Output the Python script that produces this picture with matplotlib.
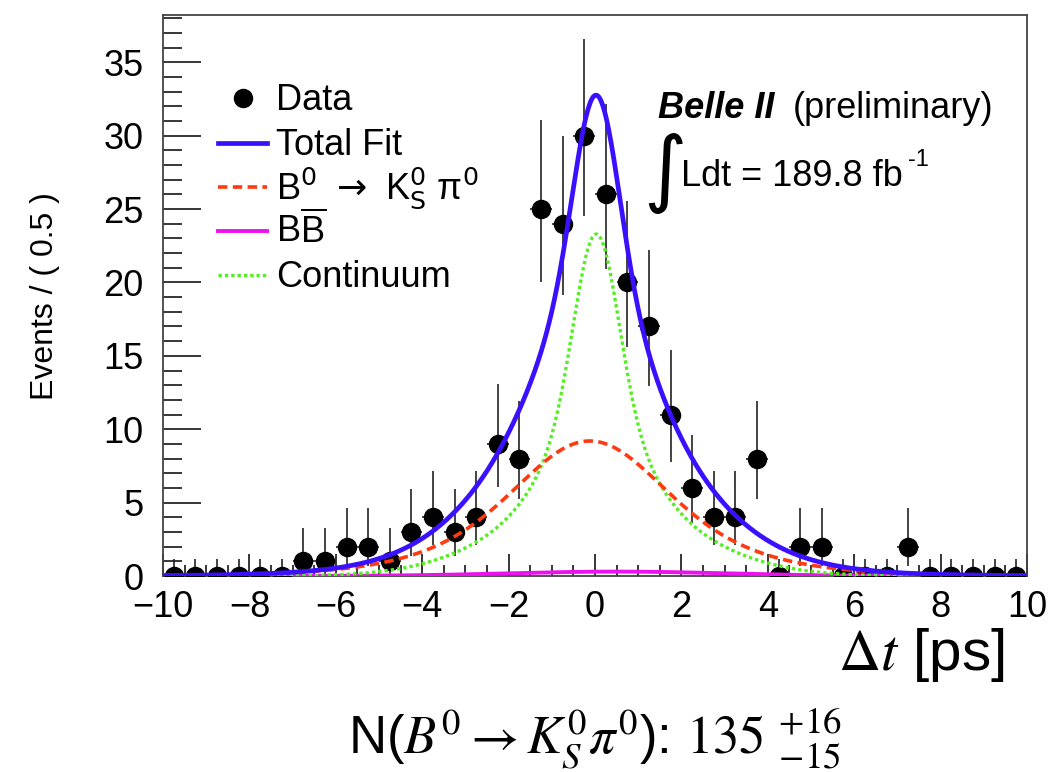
import math
import numpy as np
import matplotlib
matplotlib.use("Agg")
import matplotlib.pyplot as plt
from matplotlib.lines import Line2D
from matplotlib.ticker import MultipleLocator

plt.rcParams['font.family'] = ['Liberation Sans', 'DejaVu Sans']
plt.rcParams['mathtext.fontset'] = 'custom'
plt.rcParams['mathtext.rm'] = 'Liberation Sans'
plt.rcParams['mathtext.it'] = 'Liberation Sans:italic'
plt.rcParams['mathtext.bf'] = 'Liberation Sans:bold'

# ---------------- data ----------------
bin_centers = [-9.75, -9.25, -8.75, -8.25, -7.75, -7.25, -6.75, -6.25, -5.75, -5.25,
               -4.75, -4.25, -3.75, -3.25, -2.75, -2.25, -1.75, -1.25, -0.75, -0.25,
               0.25, 0.75, 1.25, 1.75, 2.25, 2.75, 3.25, 3.75, 4.25, 4.75,
               5.25, 5.75, 6.25, 6.75, 7.25, 7.75, 8.25, 8.75, 9.25, 9.75]
counts = [0, 0, 0, 0, 0, 0, 1, 1, 2, 2,
          1, 3, 4, 3, 4, 9, 8, 25, 24, 30,
          26, 20, 17, 11, 6, 4, 4, 8, 0, 2,
          2, 0, 0, 0, 2, 0, 0, 0, 0, 0]
# asymmetric Poisson errors per count value
poisson_lo = {0: 0.0, 1: 0.83, 2: 1.29, 3: 1.63, 4: 1.91, 6: 2.38, 8: 2.77, 9: 2.94,
              11: 3.26, 17: 4.06, 20: 4.41, 24: 4.86, 25: 4.97, 26: 5.07, 30: 5.46}
poisson_hi = {0: 1.15, 1: 2.30, 2: 2.64, 3: 2.92, 4: 3.16, 6: 3.58, 8: 3.94, 9: 4.11,
              11: 4.42, 17: 5.20, 20: 5.52, 24: 5.96, 25: 6.06, 26: 6.17, 30: 6.58}
bin_half_width = 0.25

# fit model parameters (events / 0.5 ps at peak)
sig_peak, sig_tau, sig_res, sig_mu = 9.2, 1.52, 1.2, -0.12
cont_peak, cont_mu = 23.3, 0.03
cont_fracs = [0.518, 0.257, 0.225]
cont_widths = [0.5, 1.0, 2.1]
bb_peak, bb_mu, bb_width = 0.3, 0.5, 2.5

legend_labels = ["Data", "Total Fit",
                 r"B$^{0}\ \rightarrow\ $K$^{0}_{\mathrm{S}}$ π$^{0}$",
                 r"B$\overline{\mathrm{B}}$", "Continuum"]
legend_mathfont = ['custom', 'custom', 'dejavusans', 'custom', 'custom']

# ---------------- model ----------------
erfc = np.vectorize(math.erfc)

def exp_conv_gauss(t, tau, s):
    a = s / tau
    return 0.5 * np.exp(a * a / 2) * (np.exp(-t / tau) * erfc((a - t / s) / np.sqrt(2))
                                     + np.exp(t / tau) * erfc((a + t / s) / np.sqrt(2)))

t = np.linspace(-10, 10, 1001)
sig = exp_conv_gauss(t - sig_mu, sig_tau, sig_res)
sig = sig_peak * sig / exp_conv_gauss(np.array([0.0]), sig_tau, sig_res)[0]
cont = cont_peak * sum(f * np.exp(-0.5 * ((t - cont_mu) / w) ** 2)
                       for f, w in zip(cont_fracs, cont_widths))
bb = bb_peak * np.exp(-0.5 * ((t - bb_mu) / bb_width) ** 2)
total = sig + cont + bb

# ---------------- figure ----------------
W, H = 1056, 772
fig = plt.figure(figsize=(W / 100, H / 100), dpi=100)
ax = fig.add_axes([163 / W, 1 - 576 / H, (1027 - 163) / W, (576 - 14.6) / H])

c_blue = '#3a10ff'
c_red = '#ff3a10'
c_green = '#55ee22'
c_mag = '#ee10f0'

st_blue = dict(color=c_blue, lw=3.4)
st_red = dict(color=c_red, lw=2.6, dashes=(2.6, 1.5))
st_mag = dict(color=c_mag, lw=2.8)
st_green = dict(color=c_green, lw=2.4, dashes=(1.0, 0.9))

lo = [poisson_lo[c] for c in counts]
hi = [poisson_hi[c] for c in counts]
ax.errorbar(bin_centers, counts, yerr=[lo, hi], xerr=bin_half_width, fmt='o',
            color='black', ms=13, ecolor='#222222', elinewidth=1.2, capsize=0, zorder=3)

ax.plot(t, bb, zorder=4, **st_mag)
ax.plot(t, cont, zorder=4, **st_green)
ax.plot(t, sig, zorder=4, **st_red)
ax.plot(t, total, zorder=5, **st_blue)

ax.set_xlim(-10, 10)
ax.set_ylim(0, 38.25)
ax.xaxis.set_major_locator(MultipleLocator(2))
ax.xaxis.set_minor_locator(MultipleLocator(0.5))
ax.yaxis.set_major_locator(MultipleLocator(5))
ax.yaxis.set_minor_locator(MultipleLocator(1))
ax.tick_params(axis='both', which='both', direction='in', top=False, right=False,
               labelsize=26, colors='black')
ax.tick_params(axis='x', which='major', length=16, width=1.1, pad=10)
ax.tick_params(axis='x', which='minor', length=8, width=1.1)
ax.tick_params(axis='y', which='major', length=27, width=1.1, pad=14)
ax.tick_params(axis='y', which='minor', length=14, width=1.1)
for sp in ax.spines.values():
    sp.set_color('#444444')
    sp.set_linewidth(1.3)

# legend (drawn manually at fixed rows)
row_y = [98, 143, 187, 231, 275]
x0, x1, xt = 218, 267, 276
tf = fig.transFigure
fig.add_artist(Line2D([(x0 + x1) / 2 / W], [1 - row_y[0] / H], transform=tf,
                      ls='none', marker='o', color='black', ms=13))
for y, st in zip(row_y[1:], [st_blue, st_red, st_mag, st_green]):
    fig.add_artist(Line2D([x0 / W, x1 / W], [1 - y / H, 1 - y / H], transform=tf, **st))
for y, lab, mf in zip(row_y, legend_labels, legend_mathfont):
    fig.text(xt / W, 1 - (y + 12) / H, lab, fontsize=26, ha='left', va='baseline',
             math_fontfamily=mf)

# annotations
fig.text(45 / W, 1 - 296 / H, "Events / ( 0.5 )", rotation=90, ha='center', va='center',
         fontsize=23)
fig.text(658 / W, 1 - 108 / H, "Belle II", fontsize=26, fontweight='bold', fontstyle='italic',
         ha='left', va='center')
fig.text(793 / W, 1 - 108 / H, "(preliminary)", fontsize=26, ha='left', va='center')
fig.text(665 / W, 1 - 173 / H, "∫", fontsize=60, ha='center', va='center',
         family='DejaVu Sans')
fig.text(681 / W, 1 - 176 / H, "Ldt = 189.8 fb", fontsize=26, ha='left', va='center')
fig.text(908 / W, 1 - 160 / H, "-1", fontsize=17, ha='left', va='center')

fig.text(1005 / W, 1 - 655 / H, r"$\Delta t$ [ps]", fontsize=42, ha='right', va='center',
         math_fontfamily='stix')
fig.text(595 / W, 1 - 738 / H, r"N($B^{0} \rightarrow K_{S}^{0}\pi^{0}$): $135\ ^{+16}_{-15}$",
         fontsize=38, ha='center', va='center', math_fontfamily='stix')

fig.savefig("out.png", dpi=100)
